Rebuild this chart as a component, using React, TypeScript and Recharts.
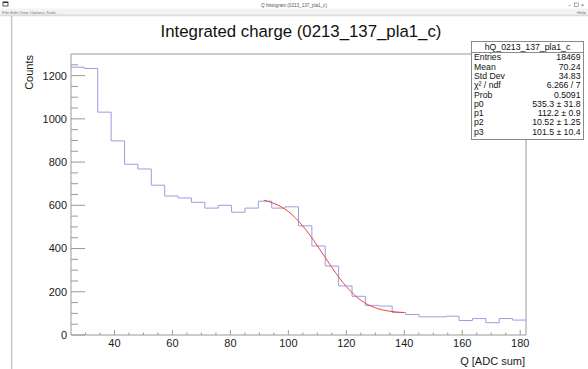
import React from 'react';
import { ComposedChart, Line, XAxis, YAxis, ReferenceLine } from 'recharts';

// ---- data ----
const xMin = 25;
const xMax = 182;
const binCounts = [
  1239, 1233, 1031, 898, 790, 768, 693, 643, 634, 614, 587, 600, 568, 587, 619, 587, 593,
  505, 412, 319, 227, 179, 137, 134, 104, 95, 84, 84, 87, 67, 76, 57, 76, 69,
];
const fitXs = [91.5, 95, 97.5, 100, 102.5, 105, 107.5, 110, 112.5, 115, 117.5, 120, 122.5, 125, 127.5, 130, 132.5, 135, 137.5, 140];
const fitYs = [624, 609, 593, 571, 541, 504, 461, 413, 363, 313, 266, 224, 189, 161, 140, 126, 116, 110, 106, 104];
const xTicks = [30, 35, 40, 45, 50, 55, 60, 65, 70, 75, 80, 85, 90, 95, 100, 105, 110, 115, 120, 125, 130, 135, 140, 145, 150, 155, 160, 165, 170, 175, 180];
const yTicks = [0, 50, 100, 150, 200, 250, 300, 350, 400, 450, 500, 550, 600, 650, 700, 750, 800, 850, 900, 950, 1000, 1050, 1100, 1150, 1200, 1250];
const statsTitle = 'hQ_0213_137_pla1_c';
const statsLabels = ['Entries', 'Mean', 'Std Dev', 'χ² / ndf', 'Prob', 'p0', 'p1', 'p2', 'p3'];
const statsValues = ['18469', '70.24', '34.83', '6.266 / 7', '0.5091', '535.3 ± 31.8', '112.2 ± 0.9', '10.52 ± 1.25', '101.5 ± 10.4'];

const binWidth = (xMax - xMin) / binCounts.length;
const histData = binCounts.map((c, i) => ({ x: xMin + i * binWidth, y: c }));
histData.push({ x: xMax, y: binCounts[binCounts.length - 1] });
const fitData = fitXs.map((x, i) => ({ x, y: fitYs[i] }));

const FONT = '"Liberation Sans", Arial, Helvetica, sans-serif';
const AXIS = '#9a9a9a';

const XTick = (p: any) => {
  const v = p.payload.value;
  const major = v % 20 === 0;
  return (
    <g>
      <line x1={p.x} x2={p.x} y1={p.y} y2={p.y - (major ? 5 : 2.5)} stroke={AXIS} strokeWidth={1} />
      {major && (
        <text x={p.x} y={p.y + 12} textAnchor="middle" fontSize={11} fontFamily={FONT} fill="#1a1a1a">
          {v}
        </text>
      )}
    </g>
  );
};

const YTick = (p: any) => {
  const v = p.payload.value;
  const major = v % 200 === 0;
  return (
    <g>
      <line x1={p.x} x2={p.x + (major ? 14 : 7)} y1={p.y} y2={p.y} stroke={AXIS} strokeWidth={1} />
      {major && (
        <text x={p.x - 4} y={p.y} dy="0.36em" textAnchor="end" fontSize={11} fontFamily={FONT} fill="#1a1a1a">
          {v}
        </text>
      )}
    </g>
  );
};

export default function App() {
  return (
    <div style={{ position: 'absolute', left: 0, top: 0, width: 588, height: 369, background: '#fff', overflow: 'hidden' }}>
      <div style={{ position: 'absolute', left: 0, top: 0 }}>
        <ComposedChart width={588} height={369} margin={{ top: 54, right: 62, bottom: 4, left: 11 }}>
          <XAxis
            type="number"
            dataKey="x"
            domain={[xMin, xMax]}
            allowDataOverflow
            ticks={xTicks}
            interval={0}
            tickSize={0}
            tickMargin={0}
            tickLine={false}
            axisLine={{ stroke: AXIS }}
            height={30}
            tick={(p: any) => <XTick {...p} />}
          />
          <YAxis
            type="number"
            dataKey="y"
            domain={[0, 1300]}
            allowDataOverflow
            ticks={yTicks}
            interval={0}
            tickSize={0}
            tickMargin={0}
            tickLine={false}
            axisLine={{ stroke: AXIS }}
            width={60}
            tick={(p: any) => <YTick {...p} />}
          />
          <ReferenceLine y={1300} stroke={AXIS} strokeWidth={1} />
          <ReferenceLine x={xMax} stroke={AXIS} strokeWidth={1} />
          <Line
            data={histData}
            dataKey="y"
            type="stepAfter"
            stroke="#9c9ce4"
            strokeWidth={1}
            dot={false}
            activeDot={false}
            isAnimationActive={false}
          />
          <Line
            data={fitData}
            dataKey="y"
            type="monotone"
            stroke="#f04040"
            strokeWidth={1}
            dot={false}
            activeDot={false}
            isAnimationActive={false}
          />
        </ComposedChart>
      </div>
      <svg width={588} height={369} style={{ position: 'absolute', left: 0, top: 0, pointerEvents: 'none' }}>
        {/* window chrome */}
        <rect x={3} y={2} width={5} height={4} fill="none" stroke="#333" strokeWidth={0.8} />
        <line x1={3} x2={8} y1={2.4} y2={2.4} stroke="#333" strokeWidth={1.2} />
        <text x={294} y={6.5} textAnchor="middle" fontSize={4.6} fontFamily={FONT} fill="#555">
          Q histogram (0213_137_pla1_c)
        </text>
        <text x={568} y={7} fontSize={5} fontFamily={FONT} fill="#666">–</text>
        <rect x={574.5} y={3} width={4} height={3.5} fill="none" stroke="#777" strokeWidth={0.6} />
        <text x={581} y={7} fontSize={5} fontFamily={FONT} fill="#666">×</text>
        <rect x={0} y={8.5} width={588} height={6.5} fill="#f3f3f3" />
        <text x={2} y={13.5} fontSize={4.4} fontFamily={FONT} fill="#777">
          File  Edit  View  Options  Tools
        </text>
        <text x={577} y={13.5} fontSize={4.4} fontFamily={FONT} fill="#777">Help</text>
        <rect x={0} y={14.5} width={588} height={1.8} fill="#dcdcdc" />
        <line x1={11.6} x2={11.6} y1={16} y2={369} stroke="#c4c4c4" strokeWidth={1.4} />

        {/* title */}
        <text x={301} y={36.7} textAnchor="middle" fontSize={16.8} fontFamily={FONT} fill="#111">
          Integrated charge (0213_137_pla1_c)
        </text>

        {/* axis titles */}
        <text transform="translate(33,55) rotate(-90)" textAnchor="end" fontSize={11} fontFamily={FONT} fill="#1a1a1a">
          Counts
        </text>
        <text x={525} y={365} textAnchor="end" fontSize={11} fontFamily={FONT} fill="#1a1a1a">
          Q [ADC sum]
        </text>

        {/* stats box */}
        <rect x={471.5} y={41.5} width={112} height={98} fill="#fff" stroke="#8a8a8a" strokeWidth={1} />
        <line x1={471.5} x2={583.5} y1={52.5} y2={52.5} stroke="#8a8a8a" strokeWidth={1} />
        <text x={527.5} y={50} textAnchor="middle" fontSize={8.7} fontFamily={FONT} fill="#111">
          {statsTitle}
        </text>
        {statsLabels.map((l, i) => (
          <g key={l}>
            <text x={474} y={60.3 + i * 9.3} fontSize={8.7} fontFamily={FONT} fill="#111">{l}</text>
            <text x={580.5} y={60.3 + i * 9.3} textAnchor="end" fontSize={8.7} fontFamily={FONT} fill="#111">
              {statsValues[i]}
            </text>
          </g>
        ))}
      </svg>
    </div>
  );
}
